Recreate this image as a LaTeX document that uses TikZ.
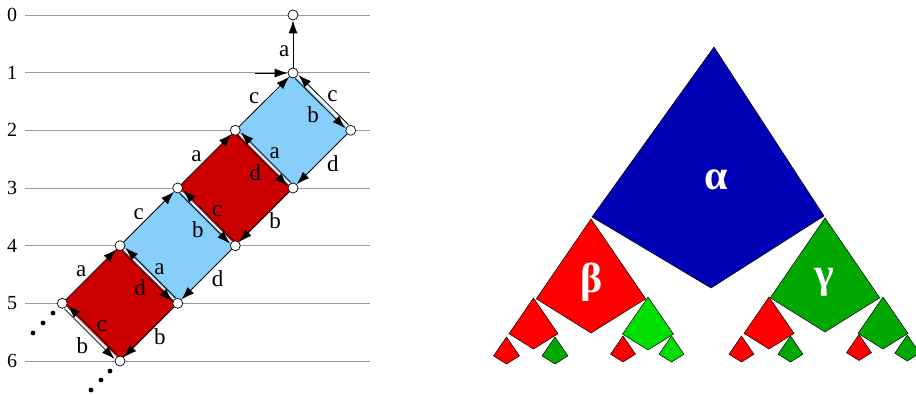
\documentclass[tikz,border=0pt]{standalone}
\usepackage{fontspec}
\setmainfont{Liberation Serif}
\usetikzlibrary{arrows.meta, backgrounds}

\definecolor{skyb}{RGB}{135,206,250}
\definecolor{darkr}{RGB}{204,0,0}
\definecolor{alphab}{RGB}{0,0,180}
\definecolor{treer}{RGB}{255,0,0}
\definecolor{treeg}{RGB}{0,168,0}
\definecolor{treelg}{RGB}{0,221,0}

% top x, top y, height, colour
\newcommand{\kite}[4]{\draw[kite, fill=#4] (#1,#2) -- ++(0.48*#3,0.7*#3) -- (#1,#2+#3) -- (#1-0.48*#3,#2+0.7*#3) -- cycle;}

\begin{document}
\begin{tikzpicture}[x=1pt, y=-1pt,
  vtx/.style={circle, draw, fill=white, minimum size=10pt, inner sep=0pt, line width=0.7pt},
  grid/.style={gray!80, line width=0.8pt},
  lvl/.style={font=\fontsize{20}{20}\selectfont},
  arr/.style={-{Latex[length=13pt,width=9pt]}, line width=0.8pt, font=\fontsize{23}{23}\selectfont},
  gap/.style={white, line width=1.2pt},
  hi/.style={transform canvas={shift={(1.7pt,1.7pt)}}},
  lo/.style={transform canvas={shift={(-1.7pt,-1.7pt)}}},
  lhi/.style={midway, xshift=9pt, yshift=4pt},
  llo/.style={midway, xshift=-7pt, yshift=-11.5pt},
  lul/.style={midway, xshift=-10pt, yshift=3pt},
  llr/.style={midway, xshift=11pt, yshift=-4pt},
  kite/.style={draw, line width=0.5pt},
  greek/.style={text=white, font=\fontsize{42}{42}\selectfont\bfseries}]
\useasboundingbox (0,0) rectangle (916,394);

% levels
\foreach \k in {0,...,6} {
  \node[lvl] (l\k) at (12,15+57.67*\k) {\k};
}

% chain of squares
\node[vtx] (v0)  at (293,15) {};
\node[vtx] (v1)  at (293,73) {};
\node[vtx] (v2l) at (235.3,130.3) {};
\node[vtx] (v2r) at (350.7,130.3) {};
\node[vtx] (v3l) at (177.7,188) {};
\node[vtx] (v3r) at (293,188) {};
\node[vtx] (v4l) at (120,245.7) {};
\node[vtx] (v4r) at (235.3,245.7) {};
\node[vtx] (v5l) at (62.3,303.3) {};
\node[vtx] (v5r) at (177.7,303.3) {};
\node[vtx] (v6)  at (120,361) {};
\coordinate (in1) at (255,73);

\begin{scope}[on background layer]
  \foreach \k in {0,...,6}
    \draw[grid] (25,15+57.67*\k) -- (370,15+57.67*\k);
  \fill[skyb]  (v1.center) -- (v2r.center) -- (v3r.center) -- (v2l.center) -- cycle;
  \fill[darkr] (v2l.center) -- (v3r.center) -- (v4r.center) -- (v3l.center) -- cycle;
  \fill[skyb]  (v3l.center) -- (v4r.center) -- (v5r.center) -- (v4l.center) -- cycle;
  \fill[darkr] (v4l.center) -- (v5r.center) -- (v6.center) -- (v5l.center) -- cycle;
\end{scope}

\draw[arr] (v1) -- (v0) node[left, pos=0.35] {a};
\draw[arr] (in1) -- (v1);

% double edges
\foreach \p/\q/\u/\w in {v1/v2r/c/b, v2l/v3r/a/d, v3l/v4r/c/b, v4l/v5r/a/d, v5l/v6/c/b} {
  \draw[gap] (\p) -- (\q);
  \draw[arr, hi] (\q) -- (\p) node[lhi] {\u};
  \draw[arr, lo] (\p) -- (\q) node[llo] {\w};
}
% upper left edges
\foreach \p/\q/\u in {v2l/v1/c, v3l/v2l/a, v4l/v3l/c, v5l/v4l/a}
  \draw[arr] (\p) -- (\q) node[lul] {\u};
% lower right edges
\foreach \p/\q/\u in {v2r/v3r/d, v3r/v4r/b, v4r/v5r/d, v5r/v6/b}
  \draw[arr] (\p) -- (\q) node[llr] {\u};

\foreach \x/\y in {53/313, 43/323, 33/333, 110/371, 101/380, 91/390}
  \fill (\x,\y) circle (2.4pt);

% tree of kites
\draw[kite, fill=alphab] (714,47) -- (824,216) -- (711,288) -- (592,217) -- cycle;
\kite{591}{219}{114}{treer}
\kite{825}{218}{114}{treeg}
\kite{533.5}{298}{51}{treer}
\kite{648}{297}{53}{treelg}
\kite{769}{297}{52}{treer}
\kite{883}{297}{52}{treeg}
\kite{506.5}{337}{27}{treer}
\kite{555}{337}{27}{treeg}
\kite{623}{336}{26}{treer}
\kite{671.5}{336}{26}{treelg}
\kite{741.5}{336}{26}{treer}
\kite{790.5}{336}{26}{treeg}
\kite{859}{334.5}{26}{treer}
\kite{907.3}{335}{26}{treeg}

\node[greek] (al) at (716,180) {α};
\node[greek] (be) at (592,282) {β};
\node[greek] (ga) at (824,282) {γ};
\end{tikzpicture}
\end{document}
